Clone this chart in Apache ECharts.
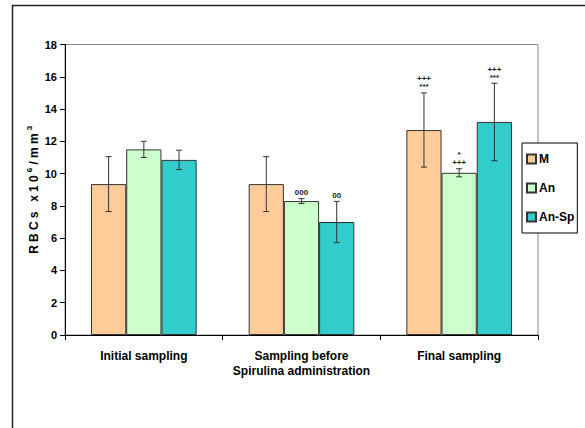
<!DOCTYPE html>
<html>
<head>
<meta charset="utf-8">
<script src="https://cdn.jsdelivr.net/npm/echarts@6/dist/echarts.min.js"></script>
<style>
  html, body { margin: 0; padding: 0; background: #fff; }
  #chart { width: 585px; height: 428px; }
</style>
</head>
<body>
<div id="chart"></div>
<script>
const categories = ['Initial sampling', 'Sampling before\nSpirulina administration', 'Final sampling'];
const seriesNames = ['M', 'An', 'An-Sp'];
const valuesM = [9.35, 9.35, 12.7];
const valuesAn = [11.5, 8.3, 10.05];
const valuesAnSp = [10.85, 7.0, 13.2];
const errM = [1.7, 1.7, 2.3];
const errAn = [0.5, 0.15, 0.25];
const errAnSp = [0.6, 1.28, 2.4];
const notesM = ['', '', '+++\n***'];
const notesAn = ['', '000', '*\n+++'];
const notesAnSp = ['', '00', '+++\n***'];
const yTicks = [0, 2, 4, 6, 8, 10, 12, 14, 16, 18];

const colors = ['#FFCC99', '#CCFFCC', '#33CCCC'];
const font = 'Arial, "Liberation Sans", sans-serif';
const catGap = 0.33;

const chart = echarts.init(document.getElementById('chart'), null, {renderer: 'svg'});

const allValues = [valuesM, valuesAn, valuesAnSp];
const allErr = [errM, errAn, errAnSp];
const allNotes = [notesM, notesAn, notesAnSp];

// spaced-out axis title, one rich token per character
const spaced = (str, tag) => str.split('').map(ch => '{' + tag + '|' + ch + '}').join('');
const yName = spaced('RBCs x10', 'b') + '{s|6}' + spaced('/mm', 'b') + '{s|3}';

// error bars + significance marks, one custom series per group
const errorSeries = seriesNames.map((name, s) => ({
  name: name + ' err',
  type: 'custom',
  z: 5,
  data: categories.map((c, i) => [i, allValues[s][i], allErr[s][i]]),
  renderItem: function (params, api) {
    const i = api.value(0);
    const v = api.value(1);
    const e = api.value(2);
    const catW = api.size([1, 0])[0];
    const barW = catW * (1 - catGap) / 3;
    const x = api.coord([i, 0])[0] + (s - 1) * barW;
    const top = api.coord([i, v + e])[1];
    const bot = api.coord([i, v - e])[1];
    const st = {stroke: '#333', lineWidth: 1};
    const children = [
      {type: 'line', shape: {x1: x, y1: top, x2: x, y2: bot}, style: st},
      {type: 'line', shape: {x1: x - 3, y1: top, x2: x + 3, y2: top}, style: st},
      {type: 'line', shape: {x1: x - 3, y1: bot, x2: x + 3, y2: bot}, style: st}
    ];
    const note = allNotes[s][i];
    if (note) {
      // one text per line, stacked upward from the cap
      const lines = note.split('\n').reverse();
      lines.forEach((txt, k) => {
        children.push({
          type: 'text',
          x: x,
          y: top - 2 - k * 8,
          style: {
            text: txt,
            align: 'center',
            verticalAlign: 'bottom',
            font: 'bold 8px ' + font,
            fill: '#222'
          }
        });
      });
    }
    return {type: 'group', children: children};
  }
}));

const barSeries = seriesNames.map((name, s) => ({
  name: name,
  type: 'bar',
  data: allValues[s],
  barGap: 0,
  barCategoryGap: (catGap * 100) + '%',
  itemStyle: {color: colors[s], borderColor: '#333', borderWidth: 1},
  emphasis: {disabled: true}
}));

const option = {
  animation: false,
  textStyle: {fontFamily: font},
  graphic: [{
    type: 'rect',
    shape: {x: 12.5, y: 5.5, width: 700, height: 600},
    style: {fill: 'none', stroke: '#222', lineWidth: 1.5},
    silent: true
  }],
  grid: {
    left: 65, right: 47, top: 44.5, bottom: 93,
    show: true, borderColor: '#888', borderWidth: 1, backgroundColor: 'transparent'
  },
  legend: {
    data: seriesNames,
    orient: 'vertical',
    left: 522,
    top: 143,
    padding: [10, 3, 10, 4],
    itemGap: 17,
    itemWidth: 9,
    itemHeight: 9,
    icon: 'rect',
    borderColor: '#000',
    borderWidth: 1,
    backgroundColor: '#fff',
    textStyle: {fontSize: 12, fontWeight: 'bold', color: '#000', fontFamily: font, padding: [0, 0, 0, -2]}
  },
  xAxis: {
    type: 'category',
    data: categories,
    axisLine: {lineStyle: {color: '#000', width: 1}},
    axisTick: {show: true, length: 5, lineStyle: {color: '#000'}},
    axisLabel: {
      interval: 0,
      fontSize: 12, fontWeight: 'bold', color: '#000', margin: 13, lineHeight: 15,
      fontFamily: font
    },
    splitLine: {show: false}
  },
  yAxis: {
    type: 'value',
    min: yTicks[0],
    max: yTicks[yTicks.length - 1],
    interval: 2,
    name: yName,
    nameLocation: 'middle',
    nameGap: 25,
    nameMoveOverlap: false,
    nameRotate: 90,
    nameTextStyle: {
      rich: {
        b: {fontSize: 12, fontWeight: 'bold', color: '#000', lineHeight: 15, verticalAlign: 'bottom', padding: [0, 1.6], fontFamily: font},
        s: {fontSize: 8, fontWeight: 'bold', color: '#000', lineHeight: 15, verticalAlign: 'top', padding: [0, 1.6], fontFamily: font}
      }
    },
    axisLine: {show: true, lineStyle: {color: '#000', width: 1}},
    axisTick: {show: true, length: 5, lineStyle: {color: '#000'}},
    axisLabel: {fontSize: 11, fontWeight: 'bold', color: '#000', margin: 8, fontFamily: font},
    splitLine: {show: false}
  },
  series: barSeries.concat(errorSeries)
};

chart.setOption(option);
</script>
</body>
</html>
